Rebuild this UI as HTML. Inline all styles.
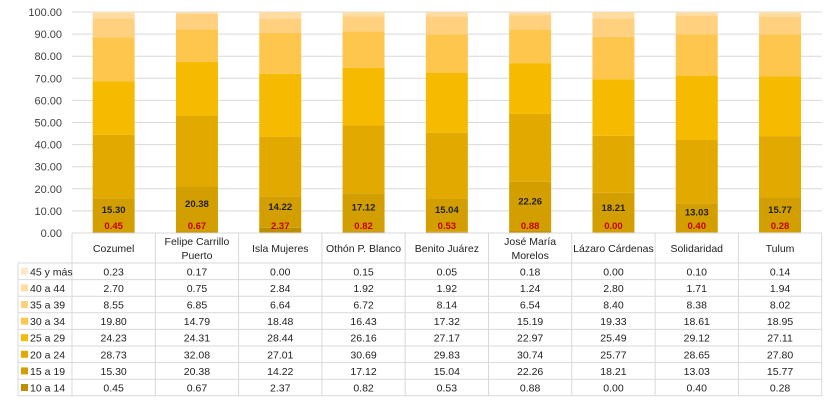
<!DOCTYPE html>
<html><head><meta charset="utf-8"><style>
body{margin:0;background:#fff;width:833px;height:400px;overflow:hidden}
svg{font-family:"Liberation Sans",sans-serif}
</style></head><body>
<svg id="s" width="833" height="400" xmlns="http://www.w3.org/2000/svg"></svg>
<script>
const names=[["Cozumel"],["Felipe Carrillo","Puerto"],["Isla Mujeres"],["Othón P. Blanco"],["Benito Juárez"],["José María","Morelos"],["Lázaro Cárdenas"],["Solidaridad"],["Tulum"]];
const d=[[.45,15.30,28.73,24.23,19.80,8.55,2.70,.23],[.67,20.38,32.08,24.31,14.79,6.85,.75,.17],[2.37,14.22,27.01,28.44,18.48,6.64,2.84,0],[.82,17.12,30.69,26.16,16.43,6.72,1.92,.15],[.53,15.04,29.83,27.17,17.32,8.14,1.92,.05],[.88,22.26,30.74,22.97,15.19,6.54,1.24,.18],[0,18.21,25.77,25.49,19.33,8.40,2.80,0],[.40,13.03,28.65,29.12,18.61,8.38,1.71,.10],[.28,15.77,27.80,27.11,18.95,8.02,1.94,.14]];
const cols=["#BC8E00","#D39F00","#E2AA00","#F6BA00","#FFC64E","#FFD07E","#FFDCA2","#FFE8C8"];
const labs=["10 a 14","15 a 19","20 a 24","25 a 29","30 a 34","35 a 39","40 a 44","45 y más"];
let h="";const X0=72,CW=83.3,Y0=233,K=2.21;
for(let i=0;i<=10;i++){let y=Y0-i*10*K;h+=`<line x1="${X0}" x2="822" y1="${y}" y2="${y}" stroke="#d9d9d9" stroke-width="1"/><text x="62" y="${y+4}" text-anchor="end" font-size="11" fill="#404040">${(i*10).toFixed(2)}</text>`;}
d.forEach((v,j)=>{let bx=X0+j*CW+CW/2-21,c=0;v.forEach((a,k)=>{let y1=Y0-c*K,y2=Y0-(c+a)*K;h+=`<rect x="${bx}" y="${y2}" width="42" height="${y1-y2}" fill="${cols[k]}"/>`;c+=a;});
let cx=X0+j*CW+CW/2;let m=(v[0]+v[1]/2);h+=`<text x="${cx}" y="${Y0-m*K-2}" text-anchor="middle" font-size="9.5" font-weight="bold" fill="#222">${v[1].toFixed(2)}</text><text x="${cx}" y="${Y0-4}" text-anchor="middle" font-size="9.5" font-weight="bold" fill="#C00000">${v[0].toFixed(2)}</text>`;});
const RT=263,RH=16.6;
h+=`<g stroke="#d9d9d9" stroke-width="1">`;
for(let j=0;j<=9;j++){let x=X0+j*CW;h+=`<line x1="${x}" x2="${x}" y1="${Y0}" y2="396"/>`;}
h+=`<line x1="18" x2="18" y1="${RT}" y2="396"/><line x1="${X0}" x2="822" y1="${Y0}" y2="${Y0}"/>`;
for(let r=0;r<=8;r++){let y=RT+r*RH;h+=`<line x1="18" x2="822" y1="${y}" y2="${y}"/>`;}
h+=`</g>`;
names.forEach((n,j)=>{let cx=X0+j*CW+CW/2;if(n.length==1)h+=`<text x="${cx}" y="252" text-anchor="middle" font-size="10.5" fill="#222">${n[0]}</text>`;else h+=`<text x="${cx}" y="245" text-anchor="middle" font-size="10.5" fill="#222">${n[0]}</text><text x="${cx}" y="259" text-anchor="middle" font-size="10.5" fill="#222">${n[1]}</text>`;});
for(let r=0;r<8;r++){let k=7-r,y=RT+r*RH+RH/2;h+=`<rect x="21" y="${y-3.5}" width="7" height="7" fill="${cols[k]}"/><text x="30" y="${y+4}" font-size="10.5" fill="#222">${labs[k]}</text>`;
d.forEach((v,j)=>{h+=`<text x="${X0+j*CW+CW/2}" y="${y+4}" text-anchor="middle" font-size="10.5" fill="#222">${v[k].toFixed(2)}</text>`;});}
document.getElementById("s").innerHTML=h;
</script>
</body></html>
